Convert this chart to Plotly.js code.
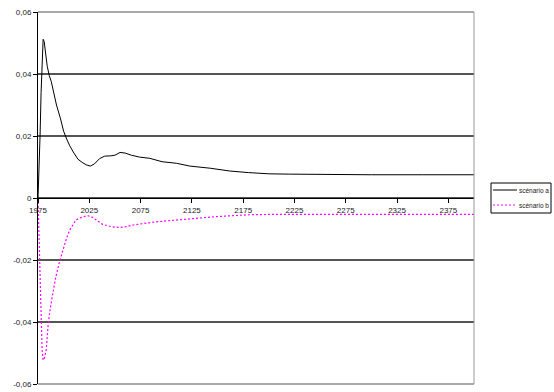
<!DOCTYPE html>
<html>
<head>
<meta charset="utf-8">
<script src="https://cdn.plot.ly/plotly-3.0.1.min.js"></script>
<style>html,body{margin:0;padding:0;background:#fff;}#chart{width:554px;height:392px;}</style>
</head>
<body>
<div id="chart"></div>
<script>
// Scenario a (black, solid)
const yearsA = [1975,1976,1977,1978,1979,1980,1981,1982,1984,1986,1988,1990,1993,1997,2000,2003,2006,2010,2014,2018,2022,2026,2030,2035,2040,2046,2050,2055,2060,2066,2074,2084,2096,2110,2123,2143,2162,2180,2200,2220,2240,2260,2300,2350,2400];
const valuesA = [0,0.008,0.02,0.034,0.046,0.0512,0.0505,0.047,0.0425,0.0395,0.0375,0.0345,0.0300,0.0255,0.0215,0.019,0.0168,0.0145,0.0125,0.0115,0.0107,0.0103,0.0110,0.0127,0.0135,0.0136,0.0138,0.0147,0.0145,0.0138,0.0132,0.0128,0.0117,0.0112,0.0103,0.0096,0.0087,0.0082,0.0078,0.0077,0.0076,0.0075,0.0075,0.0075,0.0075];
// Scenario b (magenta, dotted)
const yearsB = [1975,1976,1977,1978,1979,1980,1981,1983,1985,1987,1989,1992,1996,1999,2003,2006,2009,2012,2016,2019,2023,2027,2030,2034,2038,2042,2047,2055,2060,2068,2078,2087,2100,2110,2129,2149,2165,2181,2200,2250,2300,2350,2400];
const valuesB = [0,-0.012,-0.03,-0.042,-0.049,-0.0523,-0.052,-0.049,-0.0405,-0.0355,-0.0315,-0.026,-0.0205,-0.0168,-0.0128,-0.0103,-0.0085,-0.0071,-0.0064,-0.006,-0.0057,-0.006,-0.0068,-0.0076,-0.0085,-0.0089,-0.0093,-0.0095,-0.0093,-0.0087,-0.0082,-0.0078,-0.0074,-0.0071,-0.0066,-0.006,-0.0057,-0.0054,-0.0053,-0.0053,-0.0053,-0.0053,-0.0053];
const seriesNames = ['scénario a','scénario b'];
const xTickVals = [1975,2025,2075,2125,2175,2225,2275,2325,2375];
const yTickVals = [-0.06,-0.04,-0.02,0,0.02,0.04,0.06];
const yTickText = ['-0,06','-0,04','-0,02','0','0,02','0,04','0,06'];

const font = 'Liberation Sans, Arial, sans-serif';
const gridColor = '#555';
const traces = [
  {x: yearsA, y: valuesA, name: seriesNames[0], type: 'scatter', mode: 'lines',
   line: {color: '#000000', width: 1}},
  {x: yearsB, y: valuesB, name: seriesNames[1], type: 'scatter', mode: 'lines',
   line: {color: '#ff00ff', width: 1.2, dash: '2px,2px'}}
];

// legend geometry in paper coords
const px = v => (v - 38) / 436;
const py = v => (384 - v) / 372;

const layout = {
  width: 554, height: 392,
  margin: {l: 38, r: 80, t: 12, b: 8, pad: 0},
  paper_bgcolor: '#fff', plot_bgcolor: '#fff',
  showlegend: false,
  font: {family: font, size: 8, color: '#222'},
  xaxis: {
    range: [1975, 2400], anchor: 'free', position: 0.5,
    tickmode: 'array', tickvals: xTickVals, ticktext: xTickVals.map(String),
    ticks: 'outside', ticklen: 4, tickcolor: '#000', tickwidth: 1,
    showline: true, linecolor: '#000', linewidth: 1,
    showgrid: false, zeroline: false,
    tickfont: {family: font, size: 8, color: '#222'}
  },
  yaxis: {
    range: [-0.06, 0.06],
    tickmode: 'array', tickvals: yTickVals, ticktext: yTickText,
    ticks: 'outside', ticklen: 4, tickcolor: '#000', tickwidth: 1,
    showline: true, linecolor: '#000', linewidth: 1,
    showgrid: true, gridcolor: gridColor, gridwidth: 1.2,
    zeroline: false,
    tickfont: {family: font, size: 8, color: '#222'}
  },
  shapes: [
    {type: 'line', xref: 'paper', yref: 'paper', x0: 0, x1: 1, y0: 1, y1: 1,
     line: {color: gridColor, width: 1.2}, layer: 'below'},
    {type: 'line', xref: 'paper', yref: 'paper', x0: 0, x1: 1, y0: 0, y1: 0,
     line: {color: gridColor, width: 1.2}, layer: 'below'},
    {type: 'line', xref: 'paper', yref: 'paper', x0: 1, x1: 1, y0: 0, y1: 1,
     line: {color: '#999', width: 1}},
    {type: 'rect', xref: 'paper', yref: 'paper', x0: px(491), x1: px(551), y0: py(183), y1: py(213),
     line: {color: '#000', width: 1}, fillcolor: '#fff'},
    {type: 'line', xref: 'paper', yref: 'paper', x0: px(493), x1: px(517), y0: py(190), y1: py(190),
     line: {color: '#000', width: 1}},
    {type: 'line', xref: 'paper', yref: 'paper', x0: px(493), x1: px(517), y0: py(205), y1: py(205),
     line: {color: '#ff00ff', width: 1.2, dash: '2px,2px'}}
  ],
  annotations: [
    {xref: 'paper', yref: 'paper', x: px(517), y: py(190), xanchor: 'left', yanchor: 'middle',
     text: seriesNames[0], showarrow: false, font: {family: font, size: 6.5, color: '#222'}},
    {xref: 'paper', yref: 'paper', x: px(517), y: py(205), xanchor: 'left', yanchor: 'middle',
     text: seriesNames[1], showarrow: false, font: {family: font, size: 6.5, color: '#222'}}
  ]
};

Plotly.newPlot('chart', traces, layout, {staticPlot: true, displayModeBar: false});
</script>
</body>
</html>
